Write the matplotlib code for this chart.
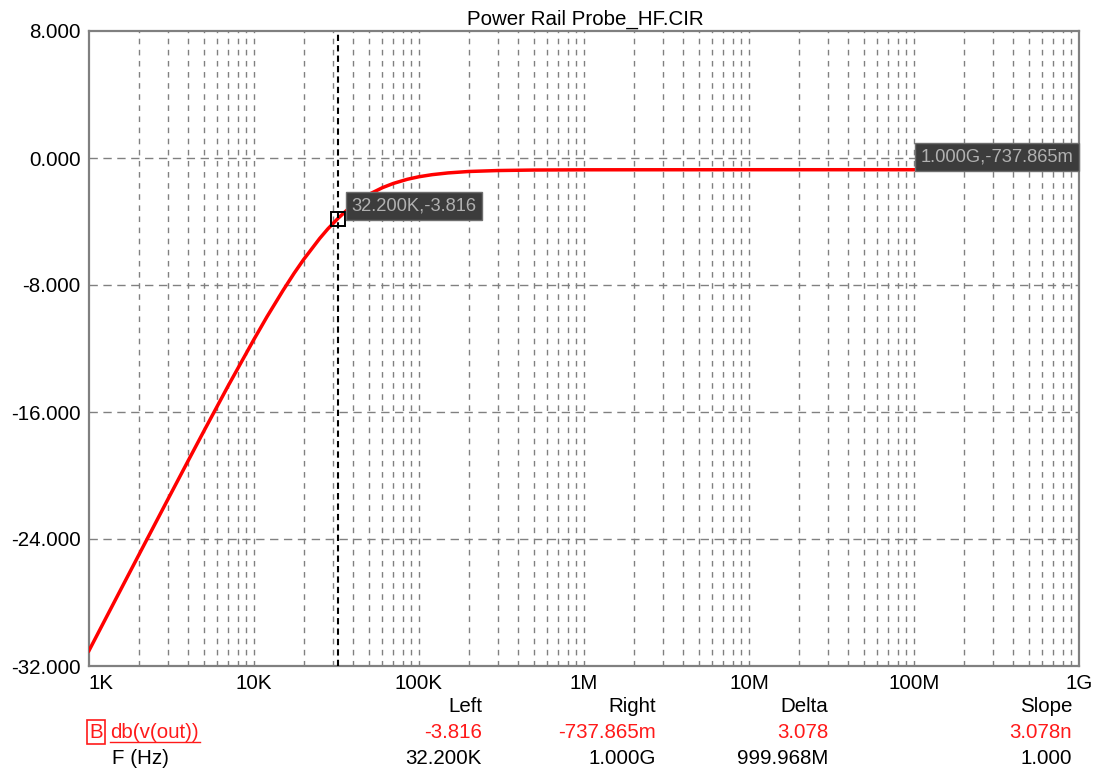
import numpy as np
import matplotlib.pyplot as plt
from matplotlib.lines import Line2D

plt.rcParams['font.family'] = ['Liberation Sans', 'DejaVu Sans']

# AC sweep of db(v(out)) from Power Rail Probe_HF.CIR
freq_hz = [1e3, 1.5e3, 2e3, 3e3, 4e3, 5e3, 7e3, 10e3, 12e3, 15e3, 17.5e3, 20e3, 25e3,
           28e3, 32.2e3, 36e3, 40e3, 45e3, 50e3, 60e3, 70e3, 85e3, 100e3, 120e3,
           150e3, 200e3, 300e3, 500e3, 1e6, 1e7, 1e8, 1e9]
gain_db = [-31.03, -27.51, -25.02, -21.52, -19.05, -17.15, -14.32, -11.42, -9.99,
           -8.34, -7.26, -6.39, -5.07, -4.47, -3.816, -3.35, -2.96, -2.58, -2.28,
           -1.87, -1.60, -1.34, -1.18, -1.05, -0.94, -0.85, -0.79, -0.757, -0.743,
           -0.738, -0.738, -0.738]

decade_ticks = [1e3, 1e4, 1e5, 1e6, 1e7, 1e8, 1e9]
decade_labels = ['1K', '10K', '100K', '1M', '10M', '100M', '1G']
y_ticks = [-32, -24, -16, -8, 0, 8]
y_labels = ['-32.000', '-24.000', '-16.000', '-8.000', '0.000', '8.000']

# cursor readouts
left_f, left_v = 32.2e3, -3.816
right_f, right_v = 1e9, -0.737865
table_heads = ['Left', 'Right', 'Delta', 'Slope']
table_db = ['-3.816', '-737.865m', '3.078', '3.078n']
table_f = ['32.200K', '1.000G', '999.968M', '1.000']

W, H = 1100, 771
fig = plt.figure(figsize=(W / 100, H / 100), dpi=100)


def fx(px):
    return px / W


def fy(py):
    return 1 - py / H


ax = fig.add_axes([fx(89), fy(666), fx(1079) - fx(89), fy(31) - fy(666)])
ax.set_xscale('log')
ax.set_xlim(1e3, 1e9)
ax.set_ylim(-32, 8)

grid_col = '#808080'
for d in decade_ticks[:-1]:
    for m in range(1, 10):
        if d * m > 1e3:
            ax.axvline(d * m, color=grid_col, lw=1, ls=(0, (4, 4)), zorder=1)
for yv in y_ticks[1:-1]:
    ax.axhline(yv, color=grid_col, lw=1, ls=(0, (6, 4)), zorder=1)

ax.plot(freq_hz, gain_db, color='#ff0000', lw=2.5, zorder=3)

# left cursor
ax.axvline(left_f, color='black', lw=1.5, ls=(0, (3, 2)), zorder=4)
ax.plot([left_f], [left_v], marker='s', ms=10, mfc='none', mec='black', mew=1.4, zorder=5)
box = dict(boxstyle='square,pad=0.3', fc='#3c3c3c', ec='#6e6e6e', lw=1)
ax.annotate('32.200K,-3.816', xy=(left_f, left_v), xytext=(14, 13),
            textcoords='offset pixels', ha='left', va='center', fontsize=13.2,
            color='#b0b0b0', bbox=box, zorder=6)
ax.annotate('1.000G,-737.865m', xy=(right_f, right_v), xytext=(-6, 13),
            textcoords='offset pixels', ha='right', va='center', fontsize=13.2,
            color='#b0b0b0', bbox=box, zorder=6, annotation_clip=False)

ax.set_xticks(decade_ticks, decade_labels)
ax.set_xticks([], minor=True)
ax.set_yticks(y_ticks, y_labels)
ax.tick_params(axis='both', length=0, labelsize=14.8)
ax.tick_params(axis='x', pad=6)
ax.tick_params(axis='y', pad=6)
ax.get_xticklabels()[0].set_horizontalalignment('left')
for s in ax.spines.values():
    s.set_color('#808080')
    s.set_linewidth(1.6)

fig.text(fx(585), fy(19), 'Power Rail Probe_HF.CIR', ha='center', va='center', fontsize=14.8)

# readout table below the plot
col_right = [482, 656, 828, 1072]
for x, head, vdb, vf in zip(col_right, table_heads, table_db, table_f):
    fig.text(fx(x), fy(706), head, ha='right', va='center', fontsize=14.8, color='black')
    fig.text(fx(x), fy(733), vdb, ha='right', va='center', fontsize=14.8, color='#ff1a1a')
    fig.text(fx(x), fy(758), vf, ha='right', va='center', fontsize=14.8, color='black')

fig.text(fx(89), fy(732), 'B', ha='left', va='center', fontsize=14.8, color='#ff1a1a',
         bbox=dict(boxstyle='square,pad=0.12', fc='none', ec='#ff1a1a', lw=1.2))
fig.text(fx(110), fy(733), 'db(v(out))', ha='left', va='center', fontsize=14.8, color='#ff1a1a')
fig.add_artist(Line2D([fx(110), fx(200)], [fy(741.5), fy(741.5)], color='#ff1a1a', lw=1))
fig.text(fx(112), fy(758), 'F (Hz)', ha='left', va='center', fontsize=14.8, color='black')

fig.savefig('out.png', dpi=100, facecolor='white')
